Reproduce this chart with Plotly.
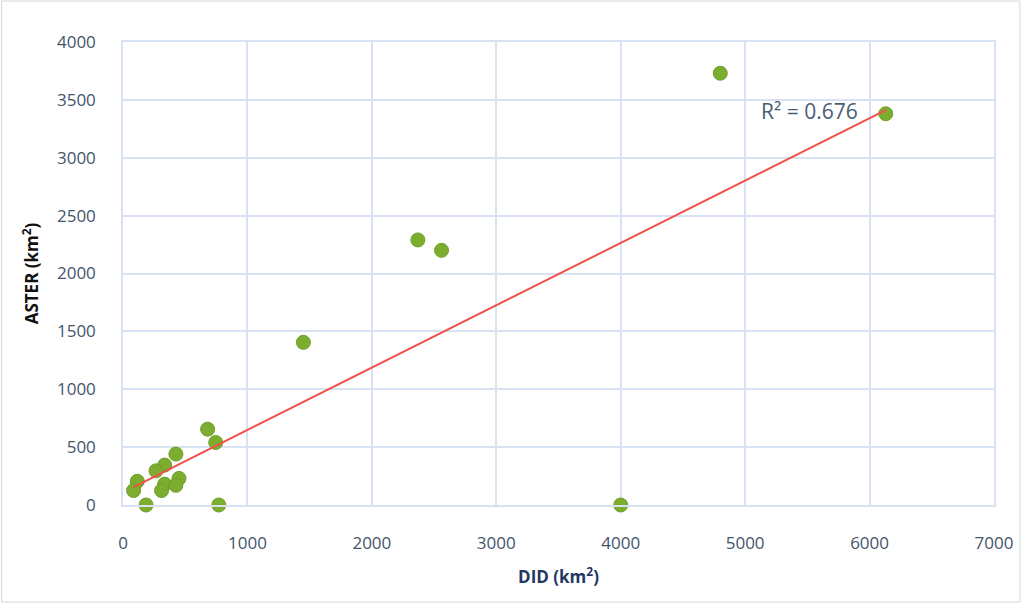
import numpy as np
import plotly.graph_objects as go

# Data
did_km2 = [4800, 6130, 2370, 2560, 1450, 4000, 770, 185, 680, 745,
           425, 335, 265, 115, 85, 450, 335, 425, 310]
aster_km2 = [3730, 3380, 2290, 2200, 1405, 0, 0, 0, 655, 540,
             440, 345, 295, 205, 125, 230, 180, 170, 125]
x_ticks = [0, 1000, 2000, 3000, 4000, 5000, 6000, 7000]
y_ticks = [0, 500, 1000, 1500, 2000, 2500, 3000, 3500, 4000]
r2_label = "R² = 0.676"

x = np.array(did_km2, dtype=float)
y = np.array(aster_km2, dtype=float)
slope, intercept = np.polyfit(x, y, 1)
tx = np.array([x.min(), x.max()])
ty = slope * tx + intercept

tick_color = "#44546a"
grid_color = "#d9e2f3"

fig = go.Figure()
fig.add_trace(go.Scatter(
    x=did_km2, y=aster_km2, mode="markers",
    marker=dict(size=14, color="#7cad2e", line=dict(color="#6f9e28", width=1)),
    cliponaxis=False, showlegend=False,
))
fig.add_trace(go.Scatter(
    x=tx, y=ty, mode="lines",
    line=dict(color="#f0504a", width=2),
    showlegend=False, cliponaxis=False,
))
fig.add_annotation(
    x=5520, y=3405, text=r2_label, showarrow=False,
    font=dict(family="Open Sans", size=21, color="#4a5c78"),
)

fig.update_layout(
    width=1025, height=603,
    margin=dict(l=123, r=27, t=42, b=98),
    paper_bgcolor="white", plot_bgcolor="white",
    font=dict(family="Open Sans", color=tick_color),
    xaxis=dict(
        range=[0, 7000], tickvals=x_ticks, showgrid=True, gridcolor=grid_color,
        gridwidth=1.5, zeroline=False, showline=True, linecolor=grid_color,
        linewidth=1.5, mirror=True, tickfont=dict(size=17, color=tick_color),
        ticklabelstandoff=22,
        title=dict(text="<b>DID (km<sup>2</sup>)</b>", font=dict(size=17, color="#1f3864"), standoff=18),
    ),
    yaxis=dict(
        range=[0, 4000], tickvals=y_ticks, showgrid=True, gridcolor=grid_color,
        gridwidth=1.5, zeroline=False, showline=True, linecolor=grid_color,
        linewidth=1.5, mirror=True, tickfont=dict(size=17, color=tick_color),
        ticklabelstandoff=22,
        title=dict(text="<b>ASTER (km<sup>2</sup>)</b>", font=dict(size=17, color="#111111"), standoff=14),
    ),
)
fig.add_shape(type="rect", xref="paper", yref="paper",
              x0=-122 / 875, x1=1 + 26 / 875, y0=-97 / 463, y1=1 + 41 / 463,
              line=dict(color="#d8d8d8", width=1), layer="below")

fig.write_html("out.html", config={"displayModeBar": False},
               post_script="document.body.style.margin='0';")
